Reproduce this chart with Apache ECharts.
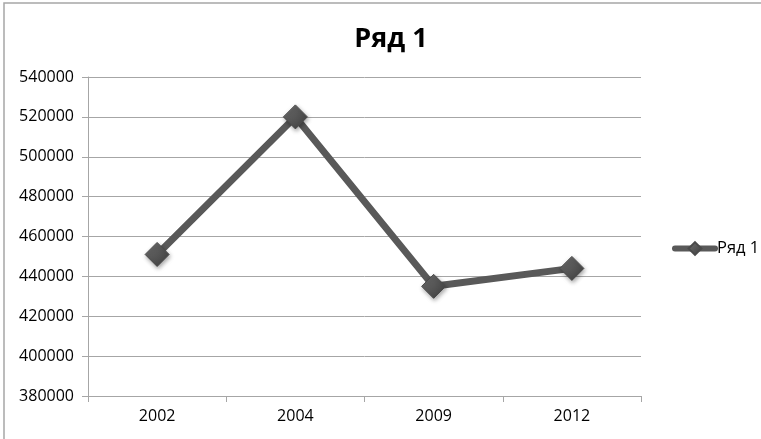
<!DOCTYPE html>
<html>
<head>
<meta charset="utf-8">
<script src="https://cdn.jsdelivr.net/npm/echarts@6/dist/echarts.min.js"></script>
<style>
  html, body { margin: 0; padding: 0; background: #fff; }
  #chart { width: 761px; height: 439px; }
</style>
</head>
<body>
<div id="chart"></div>
<script>
// Series data
const years = ['2002', '2004', '2009', '2012'];
const seriesValues = [451000, 520000, 435000, 444000];
const seriesName = 'Ряд 1';
const yMin = 380000;
const yMax = 540000;
const yStep = 20000;

const FONT = '"Open Sans", "DejaVu Sans", sans-serif';
const GRID_GRAY = '#a6a6a6';

const chart = echarts.init(document.getElementById('chart'), null, { renderer: 'canvas' });

const markerFill = new echarts.graphic.LinearGradient(0, 0, 1, 1, [
  { offset: 0, color: '#707070' },
  { offset: 1, color: '#3c3c3c' }
]);

chart.setOption({
  animation: false,
  backgroundColor: '#ffffff',
  graphic: [{
    type: 'rect',
    shape: { x: 4, y: 3, width: 900, height: 600 },
    style: { fill: 'none', stroke: '#a6a6a6', lineWidth: 1.5 },
    silent: true
  }],
  title: {
    text: seriesName,
    left: 386,
    top: 21,
    textAlign: 'center',
    textStyle: { fontFamily: FONT, fontWeight: 'bold', fontSize: 27, color: '#000' }
  },
  legend: {
    data: [seriesName],
    left: 672,
    top: 240,
    padding: 0,
    itemWidth: 40,
    itemHeight: 16,
    itemGap: 4,
    lineStyle: { width: 6, cap: 'round' },
    textStyle: { fontFamily: FONT, fontSize: 16.5, color: '#000', padding: [0, 0, 0, -3] }
  },
  grid: { left: 88, right: 120, top: 77, bottom: 43, containLabel: false },
  xAxis: {
    type: 'category',
    data: years,
    boundaryGap: true,
    axisLine: { lineStyle: { color: GRID_GRAY, width: 1 } },
    axisTick: { show: true, length: 6, inside: false, lineStyle: { color: GRID_GRAY } },
    axisLabel: { fontFamily: FONT, fontSize: 16, color: '#000', margin: 12 },
    splitLine: { show: false }
  },
  yAxis: {
    type: 'value',
    min: yMin,
    max: yMax,
    interval: yStep,
    axisLine: { show: true, lineStyle: { color: GRID_GRAY, width: 1 } },
    axisTick: { show: true, length: 6, lineStyle: { color: GRID_GRAY } },
    axisLabel: {
      fontFamily: FONT, fontSize: 16, color: '#000', margin: 14,
      formatter: (v) => String(v)
    },
    splitLine: { show: true, lineStyle: { color: GRID_GRAY, width: 1 } }
  },
  series: [{
    name: seriesName,
    type: 'line',
    data: seriesValues,
    symbol: 'diamond',
    symbolSize: 24,
    lineStyle: { color: '#595959', width: 7 },
    itemStyle: {
      color: markerFill,
      borderColor: '#4a4a4a',
      borderWidth: 1,
      shadowColor: 'rgba(0,0,0,0.35)',
      shadowBlur: 4,
      shadowOffsetX: 1,
      shadowOffsetY: 2
    },
    z: 3
  }]
});
</script>
</body>
</html>
